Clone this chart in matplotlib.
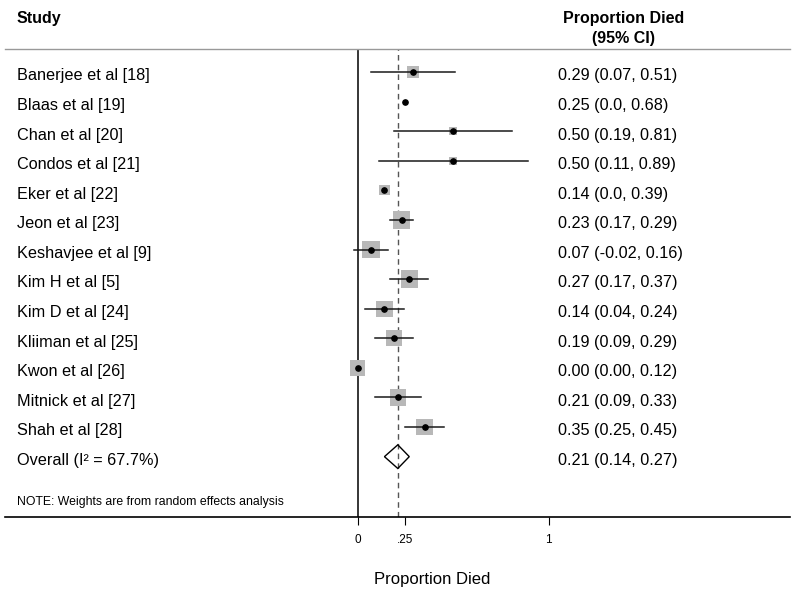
import matplotlib
matplotlib.use('Agg')
import matplotlib.pyplot as plt
import matplotlib.transforms as mtransforms
import numpy as np

plt.rcParams['font.family'] = ['Liberation Sans', 'DejaVu Sans']

# data
studies = ['Banerjee et al [18]', 'Blaas et al [19]', 'Chan et al [20]', 'Condos et al [21]',
           'Eker et al [22]', 'Jeon et al [23]', 'Keshavjee et al [9]', 'Kim H et al [5]',
           'Kim D et al [24]', 'Kliiman et al [25]', 'Kwon et al [26]', 'Mitnick et al [27]',
           'Shah et al [28]']
est = [0.29, 0.25, 0.50, 0.50, 0.14, 0.23, 0.07, 0.27, 0.14, 0.19, 0.00, 0.21, 0.35]
lo = [0.07, 0.0, 0.19, 0.11, 0.0, 0.17, -0.02, 0.17, 0.04, 0.09, 0.00, 0.09, 0.25]
hi = [0.51, 0.68, 0.81, 0.89, 0.39, 0.29, 0.16, 0.37, 0.24, 0.29, 0.12, 0.33, 0.45]
ci_text = ['0.29 (0.07, 0.51)', '0.25 (0.0, 0.68)', '0.50 (0.19, 0.81)', '0.50 (0.11, 0.89)',
           '0.14 (0.0, 0.39)', '0.23 (0.17, 0.29)', '0.07 (-0.02, 0.16)', '0.27 (0.17, 0.37)',
           '0.14 (0.04, 0.24)', '0.19 (0.09, 0.29)', '0.00 (0.00, 0.12)', '0.21 (0.09, 0.33)',
           '0.35 (0.25, 0.45)']
ci_drawn = [1, 0, 1, 1, 0, 1, 1, 1, 1, 1, 0, 1, 1]   # lines not visible in original for some rows
weights = [5.8, 0.4, 2.6, 2.6, 4.0, 11.6, 11.6, 11.6, 10.3, 10.3, 9.0, 10.3, 10.3]
overall = 0.21
overall_lo, overall_hi = 0.14, 0.27
overall_label = 'Overall (I\u00b2 = 67.7%)'
overall_text = '0.21 (0.14, 0.27)'
xticks = [0, 0.25, 1]
xticklabels = ['0', '.25', '1']

W, H = 798, 591
fig = plt.figure(figsize=(W / 100, H / 100), dpi=100)
ax = fig.add_axes([5 / W, (H - 517) / H, 785 / W, 468 / H])
ax.set_xlim((5 - 357.7) / 191, (790 - 357.7) / 191)
ax.set_ylim(15.04, -0.778)

rows = np.arange(len(studies))

ax.axvline(0, color='black', lw=1.1, zorder=1)
ax.axvline(overall, color='#555555', lw=1.0, ls=(0, (4, 3)), zorder=1)

# squares sized by weight (area ~ weight)
side_px = 5.1 * np.sqrt(weights)
ax.scatter(est, rows, marker='s', s=(side_px * 0.72) ** 2, color='#b8b8b8', lw=0, zorder=2)
for i in rows:
    if ci_drawn[i]:
        ax.plot([lo[i], hi[i]], [i, i], color='#1a1a1a', lw=1.1, zorder=3)
ax.plot(est, rows, 'o', color='black', ms=3.8, zorder=4)

# overall diamond
yo = len(studies)
h = 0.4
ax.fill([overall_lo, overall, overall_hi, overall], [yo, yo - h, yo, yo + h],
        facecolor='none', edgecolor='black', lw=1.0, zorder=4)

# spines / ticks
for s in ['left', 'right']:
    ax.spines[s].set_visible(False)
ax.spines['top'].set_color('#999999')
ax.spines['top'].set_linewidth(1.0)
ax.spines['bottom'].set_linewidth(1.2)
ax.set_yticks([])
ax.set_xticks(xticks)
ax.set_xticklabels(xticklabels, fontsize=8.5)
ax.tick_params(axis='x', length=6, width=0.8, pad=6)
ax.set_xlabel('Proportion Died', fontsize=12)
ax.xaxis.set_label_coords((432 - 5) / 785, -0.117)

# text columns (text sits a little below the marker row)
tr = mtransforms.blended_transform_factory(fig.transFigure, ax.transData)
fs = 11.7
dy = 0.13
for i in rows:
    fig.text(17 / W, i + dy, studies[i], transform=tr, fontsize=fs, va='center')
    fig.text(558 / W, i + dy, ci_text[i], transform=tr, fontsize=fs, va='center')
fig.text(17 / W, yo + dy, overall_label, transform=tr, fontsize=fs, va='center')
fig.text(558 / W, yo + dy, overall_text, transform=tr, fontsize=fs, va='center')
fig.text(17 / W, 14.54, 'NOTE: Weights are from random effects analysis', transform=tr,
         fontsize=8.8, va='center')

fig.text(17 / W, 1 - 18 / H, 'Study', fontsize=11.5, fontweight='bold', va='center')
fig.text(624 / W, 1 - 18 / H, 'Proportion Died', fontsize=11.5, fontweight='bold',
         va='center', ha='center')
fig.text(624 / W, 1 - 38 / H, '(95% CI)', fontsize=11.5, fontweight='bold',
         va='center', ha='center')

fig.savefig('out.png', dpi=100, facecolor='white')
